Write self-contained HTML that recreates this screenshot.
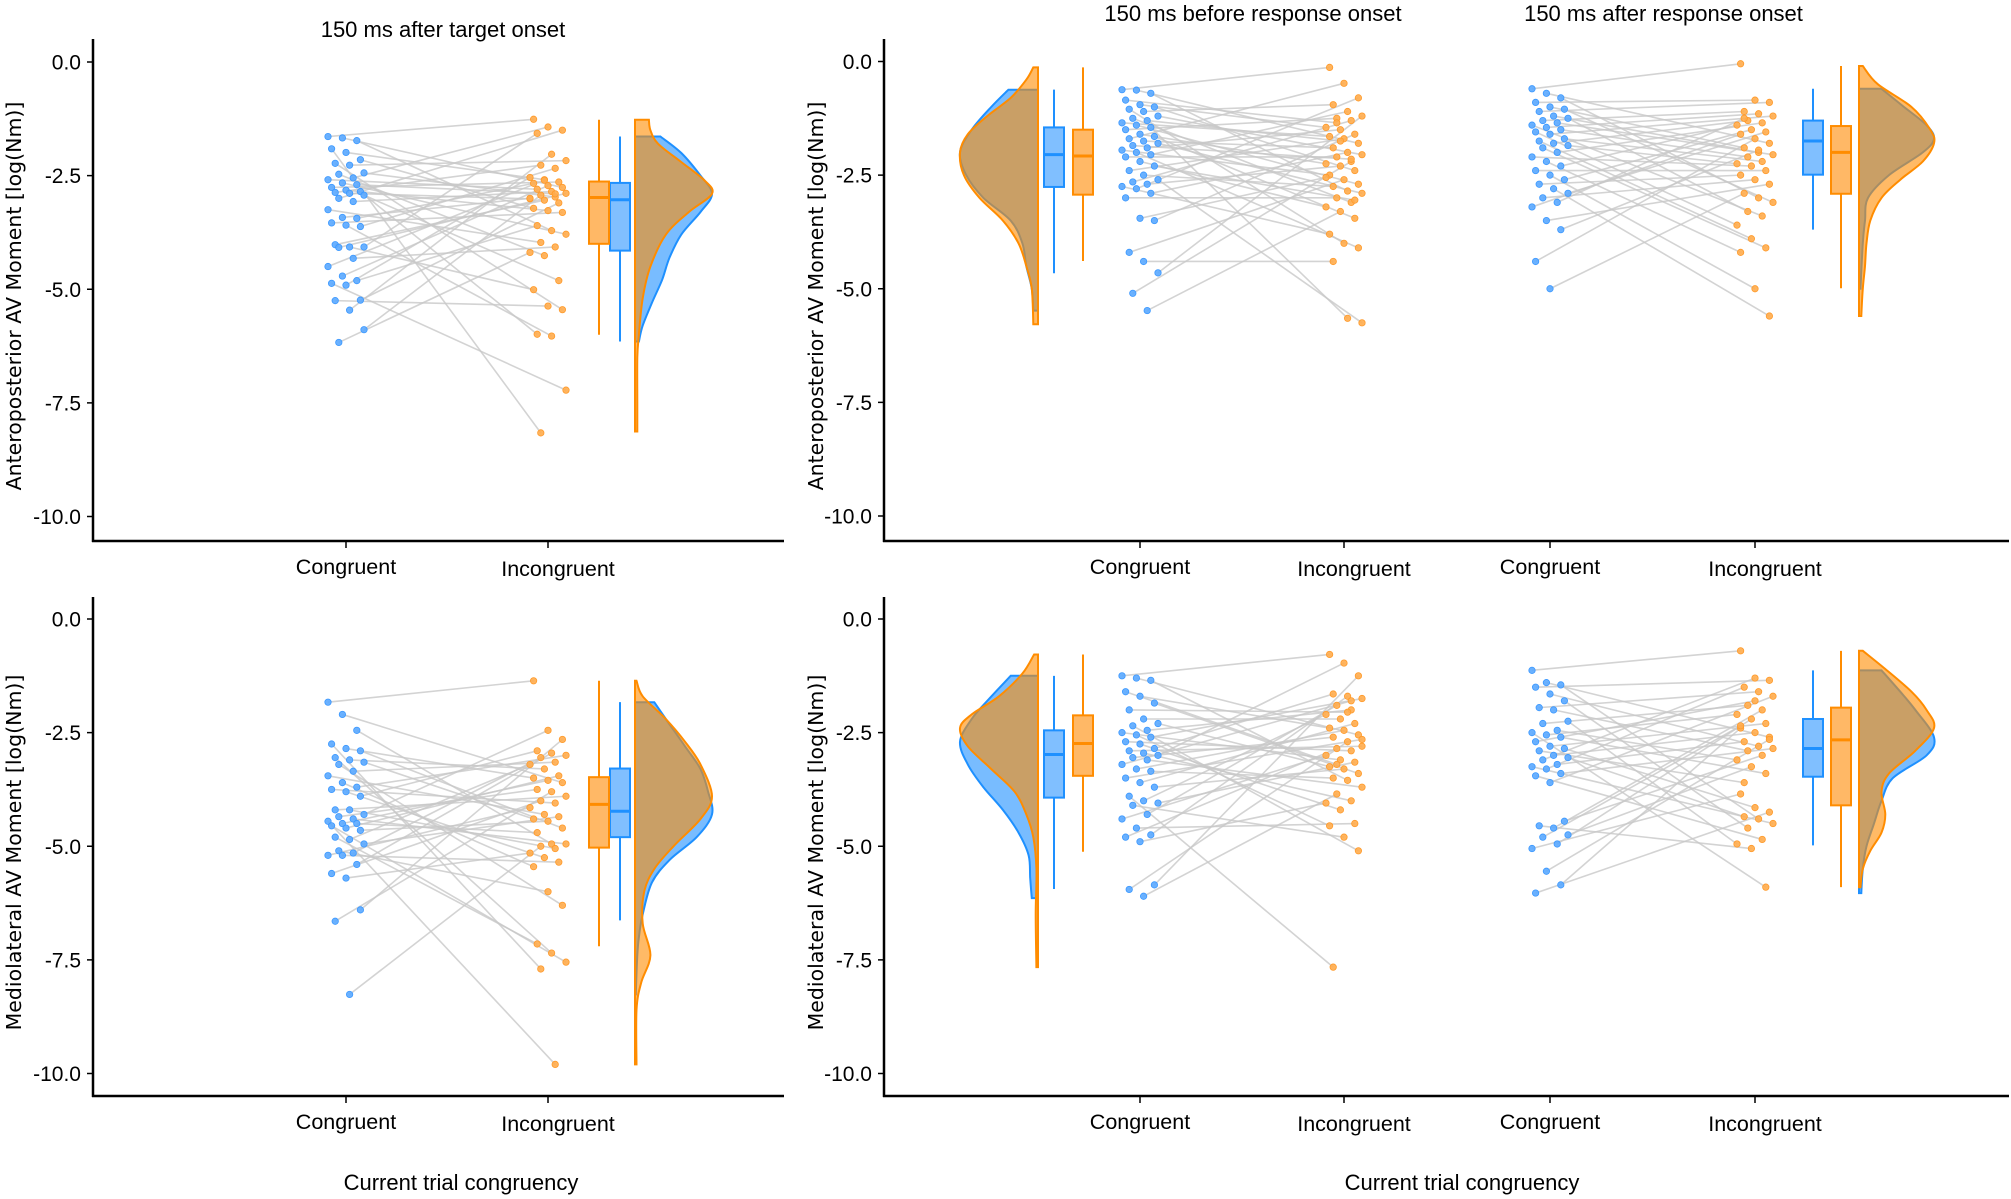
<!DOCTYPE html>
<html><head><meta charset="utf-8"><title>Raincloud plots</title>
<style>
html,body{margin:0;padding:0;background:#fff;}
svg{display:block;}
text{font-family:"Liberation Sans",sans-serif;fill:#000;}
.ylab{font-family:"DejaVu Sans","Liberation Sans",sans-serif;font-size:20.5px;}
</style></head>
<body>
<svg id="chart" width="2011" height="1199" viewBox="0 0 2011 1199" xmlns="http://www.w3.org/2000/svg"></svg>
<script>
// ---------- data ----------
const tickValues = [0, -2.5, -5, -7.5, -10];
const tickLabels = ["0.0", "-2.5", "-5.0", "-7.5", "-10.0"];
const categories = ["Congruent", "Incongruent"];
const groupTitles = ["150 ms after target onset", "150 ms before response onset", "150 ms after response onset"];

// individual values (congruent / incongruent) per group
const tlCong = [-1.64,-1.67,-1.73,-1.91,-1.99,-2.15,-2.23,-2.27,-2.44,-2.47,-2.55,-2.59,-2.66,-2.7,-2.76,-2.82,-2.85,-2.87,-2.89,-2.93,-3.0,-3.07,-3.25,-3.42,-3.44,-3.54,-3.59,-3.62,-4.02,-4.07,-4.07,-4.08,-4.32,-4.5,-4.71,-4.81,-4.87,-4.91,-5.24,-5.25,-5.46,-5.89,-6.17];
const tlInc = [-1.26,-1.43,-1.5,-1.57,-2.03,-2.17,-2.27,-2.34,-2.54,-2.59,-2.64,-2.67,-2.72,-2.76,-2.8,-2.85,-2.89,-2.93,-2.97,-3.01,-3.04,-3.1,-3.22,-3.27,-3.31,-3.6,-3.71,-3.79,-3.97,-4.07,-4.19,-4.26,-4.81,-5.01,-5.37,-5.45,-5.99,-6.03,-7.22,-8.16,-2.9,-3.0,-2.6];
const tr1Cong = [-0.62,-0.63,-0.7,-0.85,-0.95,-1.0,-1.05,-1.1,-1.2,-1.25,-1.3,-1.35,-1.4,-1.45,-1.5,-1.6,-1.65,-1.7,-1.75,-1.8,-1.85,-1.9,-1.95,-2.0,-2.05,-2.1,-2.2,-2.3,-2.4,-2.5,-2.6,-2.65,-2.7,-2.75,-2.8,-2.9,-3.0,-3.45,-3.5,-4.2,-4.4,-4.65,-5.1,-5.48];
const tr1Inc = [-0.13,-0.48,-0.8,-0.95,-1.1,-1.2,-1.25,-1.3,-1.45,-1.5,-1.6,-1.65,-1.7,-1.8,-1.9,-2.0,-2.05,-2.1,-2.2,-2.25,-2.3,-2.4,-2.5,-2.6,-2.7,-2.75,-2.85,-2.9,-3.0,-3.1,-3.2,-3.3,-3.45,-3.8,-4.0,-4.1,-4.4,-5.65,-5.75,-1.35,-2.15,-2.55,-1.75,-3.05];
const tr2Cong = [-0.6,-0.7,-0.8,-0.9,-1.0,-1.05,-1.1,-1.2,-1.25,-1.3,-1.35,-1.4,-1.45,-1.5,-1.55,-1.6,-1.7,-1.75,-1.8,-1.85,-1.9,-2.0,-2.1,-2.2,-2.3,-2.4,-2.5,-2.6,-2.7,-2.8,-2.9,-3.0,-3.1,-3.2,-3.5,-3.7,-4.4,-5.0];
const tr2Inc = [-0.05,-0.85,-0.9,-1.1,-1.15,-1.2,-1.3,-1.35,-1.4,-1.5,-1.55,-1.6,-1.7,-1.8,-1.9,-2.0,-2.05,-2.1,-2.2,-2.25,-2.3,-2.4,-2.5,-2.6,-2.7,-2.9,-3.0,-3.1,-3.3,-3.4,-3.6,-3.9,-4.1,-4.2,-5.0,-5.6,-1.25,-1.95];
const blCong = [-1.83,-2.1,-2.45,-2.75,-2.85,-2.9,-3.05,-3.1,-3.15,-3.2,-3.35,-3.45,-3.6,-3.7,-3.75,-3.8,-3.9,-4.2,-4.2,-4.3,-4.35,-4.4,-4.45,-4.5,-4.5,-4.55,-4.6,-4.65,-4.8,-4.85,-4.95,-5.1,-5.15,-5.2,-5.2,-5.4,-5.6,-5.7,-6.4,-6.65,-8.26];
const blInc = [-1.36,-2.45,-2.65,-2.9,-2.95,-3.0,-3.05,-3.15,-3.2,-3.3,-3.45,-3.5,-3.55,-3.6,-3.75,-3.8,-3.9,-4.0,-4.05,-4.15,-4.3,-4.35,-4.4,-4.45,-4.6,-4.7,-4.95,-4.95,-5.0,-5.05,-5.15,-5.25,-5.35,-5.45,-6.0,-6.3,-7.15,-7.35,-7.55,-7.7,-9.8];
const br1Cong = [-1.25,-1.3,-1.35,-1.6,-1.7,-1.85,-2.0,-2.2,-2.3,-2.35,-2.45,-2.5,-2.55,-2.6,-2.7,-2.75,-2.85,-2.9,-2.95,-3.0,-3.05,-3.1,-3.2,-3.3,-3.35,-3.5,-3.6,-3.7,-3.9,-4.0,-4.05,-4.1,-4.3,-4.4,-4.6,-4.75,-4.8,-4.9,-5.85,-5.95,-6.1];
const br1Inc = [-0.78,-0.97,-1.25,-1.65,-1.7,-1.75,-1.9,-2.0,-2.1,-2.2,-2.3,-2.4,-2.45,-2.55,-2.6,-2.7,-2.8,-2.85,-2.9,-3.0,-3.1,-3.15,-3.25,-3.3,-3.4,-3.5,-3.55,-3.7,-3.85,-4.0,-4.05,-4.2,-4.5,-4.55,-4.8,-5.1,-7.66,-2.05,-2.65,-3.2,-1.8];
const br2Cong = [-1.13,-1.4,-1.45,-1.5,-1.65,-1.8,-1.95,-2.0,-2.25,-2.3,-2.45,-2.5,-2.55,-2.6,-2.7,-2.8,-2.85,-2.9,-3.0,-3.05,-3.1,-3.2,-3.25,-3.3,-3.4,-3.45,-3.6,-4.45,-4.55,-4.6,-4.75,-4.8,-4.95,-5.05,-5.55,-5.85,-6.03];
const br2Inc = [-0.7,-1.3,-1.35,-1.5,-1.6,-1.7,-1.9,-2.0,-2.1,-2.2,-2.3,-2.4,-2.5,-2.6,-2.7,-2.8,-2.85,-2.9,-3.0,-3.1,-3.25,-3.4,-3.85,-4.15,-4.25,-4.35,-4.4,-4.5,-4.6,-4.85,-4.95,-5.05,-5.9,-2.35,-1.8,-2.65,-3.6];

// box stats [q1(upper), median, q3(lower), whiskerHigh, whiskerLow]
const tlBoxCong = [-2.66,-3.03,-4.15,-1.64,-6.15];
const tlBoxInc  = [-2.63,-2.98,-4.0,-1.27,-6.0];
const tr1BoxCong = [-1.45,-2.05,-2.76,-0.62,-4.66];
const tr1BoxInc  = [-1.5,-2.08,-2.93,-0.13,-4.39];
const tr2BoxCong = [-1.3,-1.75,-2.49,-0.6,-3.7];
const tr2BoxInc  = [-1.42,-2.0,-2.91,-0.1,-4.99];
const blBoxCong = [-3.29,-4.23,-4.8,-1.83,-6.63];
const blBoxInc  = [-3.48,-4.08,-5.03,-1.36,-7.2];
const br1BoxCong = [-2.45,-2.98,-3.93,-1.25,-5.94];
const br1BoxInc  = [-2.12,-2.74,-3.45,-0.78,-5.12];
const br2BoxCong = [-2.2,-2.85,-3.47,-1.13,-4.98];
const br2BoxInc  = [-1.95,-2.66,-4.1,-0.7,-5.9];

// density values [value, relative width]
const tlDenCong = [[-1.64,0.33],[-2.0,0.6],[-2.5,0.85],[-2.9,1.0],[-3.3,0.85],[-3.8,0.6],[-4.3,0.45],[-4.8,0.35],[-5.3,0.22],[-5.8,0.1],[-6.15,0.05]];
const tlDenInc = [[-1.27,0.18],[-1.5,0.2],[-1.8,0.3],[-2.2,0.6],[-2.6,0.9],[-2.9,1.0],[-3.3,0.7],[-3.8,0.4],[-4.5,0.2],[-5.2,0.1],[-6.0,0.05],[-6.5,0.03],[-7.5,0.03],[-8.13,0.03]];
const tr1DenCong = [[-0.62,0.38],[-1.0,0.6],[-1.5,0.85],[-2.0,1.0],[-2.5,0.92],[-3.0,0.7],[-3.5,0.35],[-4.0,0.2],[-4.5,0.15],[-5.0,0.08],[-5.48,0.06]];
const tr1DenInc = [[-0.13,0.06],[-0.4,0.15],[-0.8,0.35],[-1.2,0.65],[-1.6,0.9],[-2.0,1.0],[-2.5,0.95],[-3.0,0.75],[-3.5,0.45],[-4.0,0.25],[-4.5,0.15],[-5.0,0.08],[-5.78,0.06]];
const tr2DenCong = [[-0.6,0.3],[-1.0,0.6],[-1.4,0.9],[-1.7,1.0],[-2.0,0.85],[-2.5,0.4],[-3.0,0.12],[-3.5,0.08],[-4.0,0.05],[-5.0,0.02]];
const tr2DenInc = [[-0.1,0.05],[-0.5,0.25],[-1.0,0.7],[-1.5,0.95],[-1.8,1.0],[-2.2,0.85],[-2.6,0.55],[-3.0,0.3],[-3.5,0.15],[-4.0,0.1],[-4.5,0.08],[-5.0,0.05],[-5.6,0.03]];
const blDenCong = [[-1.83,0.25],[-2.2,0.4],[-2.8,0.65],[-3.3,0.85],[-3.8,0.95],[-4.3,1.0],[-4.8,0.8],[-5.3,0.45],[-5.8,0.22],[-6.5,0.1],[-7.0,0.05],[-7.4,0.03],[-8.26,0.01]];
const blDenInc = [[-1.36,0.02],[-1.7,0.1],[-2.2,0.4],[-2.7,0.65],[-3.2,0.85],[-3.9,1.0],[-4.4,0.85],[-5.0,0.5],[-5.5,0.25],[-6.0,0.12],[-6.7,0.1],[-7.4,0.2],[-8.0,0.08],[-8.6,0.02],[-9.8,0.02]];
const br1DenCong = [[-1.25,0.35],[-1.8,0.65],[-2.2,0.85],[-2.7,1.0],[-3.2,0.9],[-3.7,0.7],[-4.2,0.45],[-4.7,0.25],[-5.2,0.12],[-5.7,0.1],[-6.14,0.08]];
const br1DenInc = [[-0.78,0.05],[-1.2,0.2],[-1.7,0.5],[-2.1,0.85],[-2.4,1.0],[-2.8,0.9],[-3.3,0.6],[-3.8,0.3],[-4.3,0.15],[-4.8,0.06],[-5.5,0.02],[-6.5,0.03],[-7.66,0.02]];
const br2DenCong = [[-1.13,0.3],[-1.6,0.55],[-2.0,0.75],[-2.6,1.0],[-3.0,0.9],[-3.5,0.45],[-4.0,0.3],[-4.5,0.2],[-5.0,0.1],[-5.5,0.05],[-6.03,0.03]];
const br2DenInc = [[-0.7,0.05],[-1.1,0.35],[-1.6,0.7],[-2.0,0.9],[-2.4,1.0],[-2.9,0.75],[-3.4,0.4],[-3.8,0.3],[-4.3,0.35],[-4.7,0.3],[-5.1,0.15],[-5.5,0.05],[-5.9,0.02]];

// ---------- layout ----------
const NS = "http://www.w3.org/2000/svg";
const svg = document.getElementById('chart');
const PX_PER_UNIT = 45.45;
const C_BLUE = "#1e90ff", C_ORANGE = "#ff8c00";

function el(tag, attrs, parent) {
  const e = document.createElementNS(NS, tag);
  for (const k in attrs) e.setAttribute(k, attrs[k]);
  (parent || svg).appendChild(e);
  return e;
}

const panels = [
  {name:"top-left", x0:93, x1:784, top:39, bottom:541, y0:62, ylabel:"Anteroposterior AV Moment [log(Nm)]", ylx:14,
   groups:[{name:"target",title:0,titleY:30,congX:346,incX:548,cong:tlCong,inc:tlInc,boxC:tlBoxCong,boxI:tlBoxInc,bxC:620,bxI:599,vx:635,dir:1,vw:77,denC:tlDenCong,denI:tlDenInc}]},
  {name:"top-right", x0:884, x1:2009, top:39, bottom:541, y0:61.5, ylabel:"Anteroposterior AV Moment [log(Nm)]", ylx:816,
   groups:[{name:"before-response",title:1,titleY:14,congX:1140,incX:1344,cong:tr1Cong,inc:tr1Inc,boxC:tr1BoxCong,boxI:tr1BoxInc,bxC:1054,bxI:1083,vx:1038,dir:-1,vw:78,denC:tr1DenCong,denI:tr1DenInc},
           {name:"after-response",title:2,titleY:14,congX:1550,incX:1755,cong:tr2Cong,inc:tr2Inc,boxC:tr2BoxCong,boxI:tr2BoxInc,bxC:1813,bxI:1841,vx:1859,dir:1,vw:75,denC:tr2DenCong,denI:tr2DenInc}]},
  {name:"bottom-left", x0:93, x1:784, top:597, bottom:1096, y0:619, ylabel:"Mediolateral AV Moment [log(Nm)]", ylx:14, xtitle:461,
   groups:[{name:"target",congX:346,incX:548,cong:blCong,inc:blInc,boxC:blBoxCong,boxI:blBoxInc,bxC:620,bxI:599,vx:635,dir:1,vw:77,denC:blDenCong,denI:blDenInc}]},
  {name:"bottom-right", x0:884, x1:2009, top:597, bottom:1096, y0:619, ylabel:"Mediolateral AV Moment [log(Nm)]", ylx:816, xtitle:1462,
   groups:[{name:"before-response",congX:1140,incX:1344,cong:br1Cong,inc:br1Inc,boxC:br1BoxCong,boxI:br1BoxInc,bxC:1054,bxI:1083,vx:1038,dir:-1,vw:78,denC:br1DenCong,denI:br1DenInc},
           {name:"after-response",congX:1550,incX:1755,cong:br2Cong,inc:br2Inc,boxC:br2BoxCong,boxI:br2BoxInc,bxC:1813,bxI:1841,vx:1859,dir:1,vw:75,denC:br2DenCong,denI:br2DenInc}]}
];

function smoothPath(pts) {
  let d = "";
  for (let i = 0; i < pts.length - 1; i++) {
    const p0 = pts[Math.max(0, i - 1)], p1 = pts[i], p2 = pts[i + 1], p3 = pts[Math.min(pts.length - 1, i + 2)];
    const c1x = p1[0] + (p2[0] - p0[0]) / 6, c1y = p1[1] + (p2[1] - p0[1]) / 6;
    const c2x = p2[0] - (p3[0] - p1[0]) / 6, c2y = p2[1] - (p3[1] - p1[1]) / 6;
    d += ` C${c1x.toFixed(1)},${c1y.toFixed(1)} ${c2x.toFixed(1)},${c2y.toFixed(1)} ${p2[0].toFixed(1)},${p2[1].toFixed(1)}`;
  }
  return d;
}

function jitter(i) { return (((i * 37) % 11) - 5) / 5 * 18; }

panels.forEach(p => {
  const g = el('g', {});
  
  
  const ys = v => p.y0 + (-v) * PX_PER_UNIT;

  tickValues.forEach((t, i) => {
    const y = ys(t);
    const tk = el('line', {x1:p.x0 - 6, x2:p.x0, y1:y, y2:y, stroke:'#000', 'stroke-width':1.5}, g);
    
    
    const tl = el('text', {x:p.x0 - 12, y:y + 7.5, 'text-anchor':'end', 'font-size':21}, g);
    tl.textContent = tickLabels[i];
    
    
  });
  const cy = (p.top + p.bottom) / 2 + 6;
  const yl = el('text', {x:p.ylx, y:cy, 'text-anchor':'middle', class:'ylab', transform:`rotate(-90 ${p.ylx} ${cy})`, dy:'0.35em'}, g);
  yl.textContent = p.ylabel;
  
  

  p.groups.forEach(gr => {
    const gg = el('g', {}, g);
    
    
    if (gr.title !== undefined) {
      const tt = el('text', {x:(gr.congX + gr.incX) / 2 - 4 + (gr.title === 0 ? 0 : 15), y:gr.titleY + 7, 'text-anchor':'middle', 'font-size':22}, gg);
      tt.textContent = groupTitles[gr.title];
      
      
    }
    [gr.congX, gr.incX].forEach((cx, i) => {
      const tk = el('line', {x1:cx, x2:cx, y1:p.bottom, y2:p.bottom + 7, stroke:'#000', 'stroke-width':1.5}, gg);
      
      
      const lb = el('text', {x:cx + (i ? 10 : 0), y:p.bottom + 33 + i * 2, 'text-anchor':'middle', 'font-size':21.5}, gg);
      lb.textContent = categories[i];
      
      
    });
    [[gr.denC, C_BLUE, 'violin-congruent'], [gr.denI, C_ORANGE, 'violin-incongruent']].forEach(([den, col, nm]) => {
      const pts = den.map(([v, w]) => [gr.vx + gr.dir * w * gr.vw, ys(v)]);
      let d = `M${gr.vx},${pts[0][1].toFixed(1)} L${pts[0][0].toFixed(1)},${pts[0][1].toFixed(1)}` + smoothPath(pts) + ` L${gr.vx},${pts[pts.length-1][1].toFixed(1)} Z`;
      const vp = el('path', {d, fill:col, 'fill-opacity':0.6, stroke:col, 'stroke-width':2}, gg);
      
      
    });
    [[gr.boxC, gr.bxC, C_BLUE, '#80bfff', 'box-congruent'], [gr.boxI, gr.bxI, C_ORANGE, '#ffb866', 'box-incongruent']].forEach(([b, cx, col, fill, nm]) => {
      const bg = el('g', {}, gg);
      
      
      el('line', {x1:cx, x2:cx, y1:ys(b[3]), y2:ys(b[4]), stroke:col, 'stroke-width':2}, bg);
      el('rect', {x:cx - 10, y:ys(b[0]), width:20, height:ys(b[2]) - ys(b[0]), fill:fill, stroke:col, 'stroke-width':2}, bg);
      el('line', {x1:cx - 10, x2:cx + 10, y1:ys(b[1]), y2:ys(b[1]), stroke:col, 'stroke-width':3}, bg);
    });
    const n = Math.min(gr.cong.length, gr.inc.length);
    const cPos = gr.cong.map((v, i) => [gr.congX + jitter(i), ys(v)]);
    const iPos = gr.inc.map((v, i) => [gr.incX + jitter(i + 3), ys(v)]);
    for (let i = 0; i < n; i++) {
      const j = (i * 13) % n;
      const ln = el('line', {x1:cPos[i][0], y1:cPos[i][1], x2:iPos[j][0], y2:iPos[j][1], stroke:'#c8c8c8', 'stroke-width':1.6, 'stroke-opacity':0.8}, gg);
      
      
    }
    cPos.forEach(([x, y]) => {
      const c = el('circle', {cx:x, cy:y, r:3.2, fill:'#5aa9ff', stroke:'#3b98ff', 'stroke-width':0.8, 'fill-opacity':0.9}, gg);
      
      
    });
    iPos.forEach(([x, y]) => {
      const c = el('circle', {cx:x, cy:y, r:3.2, fill:'#ffac4d', stroke:'#ff9a2a', 'stroke-width':0.8, 'fill-opacity':0.9}, gg);
      
      
    });
  });

  const ya = el('line', {x1:p.x0, x2:p.x0, y1:p.top, y2:p.bottom + 1, stroke:'#000', 'stroke-width':2.5}, g);
  
  
  const xa = el('line', {x1:p.x0 - 1, x2:p.x1, y1:p.bottom, y2:p.bottom, stroke:'#000', 'stroke-width':2.5}, g);
  
  
  if (p.xtitle) {
    const xt = el('text', {x:p.xtitle, y:1190, 'text-anchor':'middle', 'font-size':22}, g);
    xt.textContent = "Current trial congruency";
    
    
  }
});
</script>
</body></html>
